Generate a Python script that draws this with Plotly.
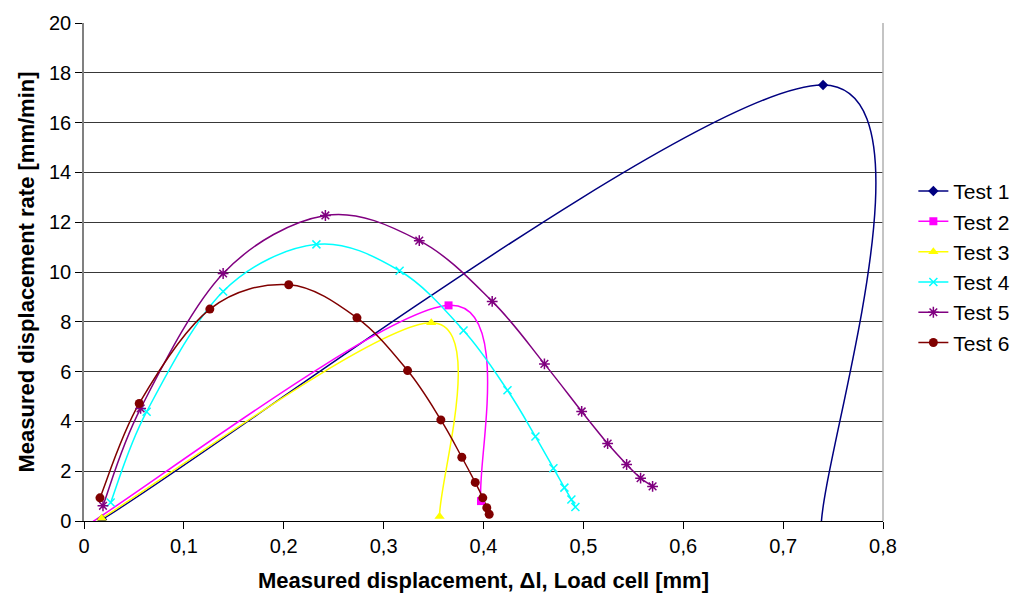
import math
import plotly.graph_objects as go

# ---- data ----
t1_x = [0.018, 0.740, 0.738]
t1_y = [0.06, 17.51, -0.3]

t2_x = [0.000, 0.365, 0.3975]
t2_y = [-0.25, 8.66, 0.80]

t3_x = [0.0177, 0.3477, 0.356]
t3_y = [0.11, 7.96, 0.18]

t4_x = [0.0267, 0.0627, 0.1393, 0.2327, 0.316, 0.380, 0.424, 0.452, 0.470, 0.481, 0.488, 0.492]
t4_y = [0.74, 4.39, 9.22, 11.11, 10.05, 7.65, 5.25, 3.39, 2.12, 1.34, 0.86, 0.56]

t5_x = [0.019, 0.0567, 0.1393, 0.2417, 0.3357, 0.4087, 0.461, 0.4983, 0.5243, 0.5433, 0.5573, 0.5693]
t5_y = [0.61, 4.52, 9.94, 12.27, 11.26, 8.82, 6.31, 4.40, 3.11, 2.27, 1.72, 1.39]

t6_x = [0.016, 0.0553, 0.126, 0.205, 0.2733, 0.324, 0.3573, 0.3783, 0.3917, 0.3993, 0.4033, 0.4057]
t6_y = [0.93, 4.72, 8.51, 9.49, 8.16, 6.04, 4.06, 2.56, 1.55, 0.93, 0.53, 0.27]

x_ticks = [0, 0.1, 0.2, 0.3, 0.4, 0.5, 0.6, 0.7, 0.8]
y_ticks = [0, 2, 4, 6, 8, 10, 12, 14, 16, 18, 20]

X_RANGE = [0, 0.8]
Y_RANGE = [0, 20]

series = [
    ("Test 1", t1_x, t1_y, "#000080", "diamond", 8),
    ("Test 2", t2_x, t2_y, "#FF00FF", "square", 8),
    ("Test 3", t3_x, t3_y, "#FFFF00", "triangle-up", 9),
    ("Test 4", t4_x, t4_y, "#00FFFF", "x-thin-open", 8),
    ("Test 5", t5_x, t5_y, "#800080", "asterisk-open", 9),
    ("Test 6", t6_x, t6_y, "#800000", "circle", 9),
]

FONT = "Liberation Sans, Arial, sans-serif"
W, H = 1027, 606
ML, MR, MT, MB = 84, 142, 17, 85
PW, PH = W - ML - MR, H - MT - MB


def smooth_path(xs, ys):
    """Excel-style smoothed line: cubic Bezier through the data points."""
    sx = PW / (X_RANGE[1] - X_RANGE[0])
    sy = PH / (Y_RANGE[1] - Y_RANGE[0])
    P = [(x * sx, y * sy) for x, y in zip(xs, ys)]
    n = len(P)

    def to_data(p):
        return p[0] / sx, p[1] / sy

    parts = ["M {:.6f},{:.6f}".format(xs[0], ys[0])]
    for i in range(n - 1):
        p0 = P[i - 1] if i > 0 else P[i]
        p1, p2 = P[i], P[i + 1]
        p3 = P[i + 2] if i + 2 < n else P[i + 1]
        d12 = math.dist(p1, p2)
        t1 = (p2[0] - p0[0], p2[1] - p0[1])
        t2 = (p3[0] - p1[0], p3[1] - p1[1])
        l1, l2 = math.hypot(*t1), math.hypot(*t2)
        f1 = 1 / 6 if l1 / 6 <= d12 / 2 or l1 == 0 else d12 / 2 / l1
        f2 = 1 / 6 if l2 / 6 <= d12 / 2 or l2 == 0 else d12 / 2 / l2
        c1 = to_data((p1[0] + f1 * t1[0], p1[1] + f1 * t1[1]))
        c2 = to_data((p2[0] - f2 * t2[0], p2[1] - f2 * t2[1]))
        e = to_data(p2)
        parts.append("C {:.6f},{:.6f} {:.6f},{:.6f} {:.6f},{:.6f}".format(
            c1[0], c1[1], c2[0], c2[1], e[0], e[1]))
    return " ".join(parts)


fig = go.Figure()
for name, xs, ys, col, sym, sz in series:
    open_marker = sym.endswith("open")
    mk = dict(symbol=sym, size=sz, color=col,
              line=dict(color=col, width=1.5 if open_marker else 0))
    # smoothed connecting line
    shape_kw = dict(type="path", xref="x", yref="y", path=smooth_path(xs, ys),
                    line=dict(color=col, width=1.5))
    try:
        fig.add_shape(layer="between", **shape_kw)
    except Exception:
        fig.add_shape(layer="below", **shape_kw)
    # data markers
    fig.add_trace(go.Scatter(x=xs, y=ys, name=name, mode="markers", marker=mk,
                             showlegend=False, cliponaxis=True))
    # legend entry (line + marker)
    fig.add_trace(go.Scatter(x=[None], y=[None], name=name, mode="lines+markers",
                             line=dict(color=col, width=1.5), marker=mk,
                             showlegend=True))

fig.update_layout(
    width=W, height=H,
    margin=dict(l=ML, r=MR, t=MT, b=MB),
    paper_bgcolor="white", plot_bgcolor="white",
    separators=", ",
    font=dict(family=FONT, size=20, color="black"),
    showlegend=True,
    legend=dict(x=1.038, xanchor="left", y=0.703, yanchor="top",
                font=dict(family=FONT, size=21, color="black"),
                bgcolor="rgba(0,0,0,0)", itemwidth=30, tracegroupgap=0),
)

fig.update_xaxes(
    range=X_RANGE, tickvals=x_ticks, tickformat="~g",
    showgrid=False, showline=True, linecolor="black", linewidth=1,
    mirror=False, ticks="outside", ticklen=7, tickcolor="black",
    tickfont=dict(family=FONT, size=20),
    title=dict(text="<b>Measured displacement, \u0394l, Load cell [mm]</b>",
               font=dict(family=FONT, size=22), standoff=16),
    zeroline=False,
)
fig.update_yaxes(
    range=Y_RANGE, tickvals=y_ticks,
    showgrid=True, gridcolor="#383838", gridwidth=1,
    showline=True, linecolor="#808080", linewidth=1.5,
    ticks="outside", ticklen=7, tickcolor="black",
    tickfont=dict(family=FONT, size=20),
    title=dict(text="<b>Measured displacement rate [mm/min]</b>",
               font=dict(family=FONT, size=22), standoff=8),
    zeroline=False,
)

# right border of the plot area
fig.add_shape(type="line", xref="paper", yref="paper", x0=1, x1=1, y0=0, y1=1,
              line=dict(color="#b0b0b0", width=1.5))

fig.write_html("out.html")
